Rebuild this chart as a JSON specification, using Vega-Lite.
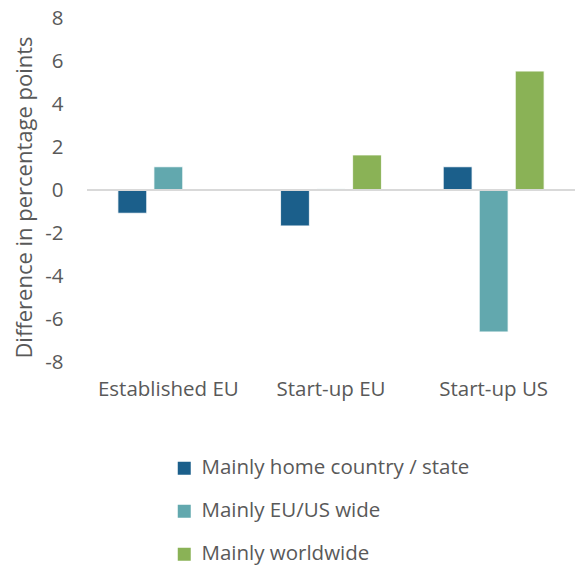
{
  "$schema": "https://vega.github.io/schema/vega-lite/v6.json",
  "autosize": "none",
  "width": 488,
  "height": 344,
  "padding": {"left": 87, "top": 18, "right": 0, "bottom": 211},
  "background": "white",
  "config": {
    "view": {"stroke": null},
    "font": "Open Sans",
    "axis": {"labelColor": "#595959", "titleColor": "#595959", "labelFont": "Open Sans", "titleFont": "Open Sans"},
    "legend": {"labelColor": "#595959", "labelFont": "Open Sans"}
  },
  "data": {
    "values": [
      {"group": "Established EU", "series": "Mainly home country / state", "value": -1.08},
      {"group": "Established EU", "series": "Mainly EU/US wide", "value": 1.08},
      {"group": "Established EU", "series": "Mainly worldwide", "value": 0},
      {"group": "Start-up EU", "series": "Mainly home country / state", "value": -1.67},
      {"group": "Start-up EU", "series": "Mainly EU/US wide", "value": 0.05},
      {"group": "Start-up EU", "series": "Mainly worldwide", "value": 1.63},
      {"group": "Start-up US", "series": "Mainly home country / state", "value": 1.08},
      {"group": "Start-up US", "series": "Mainly EU/US wide", "value": -6.6},
      {"group": "Start-up US", "series": "Mainly worldwide", "value": 5.53}
    ]
  },
  "layer": [
    {
      "mark": {"type": "bar", "stroke": "white", "strokeWidth": 0.8},
      "encoding": {
        "x": {
          "field": "group", "type": "nominal", "sort": ["Established EU", "Start-up EU", "Start-up US"],
          "scale": {"paddingInner": 0.38, "paddingOuter": 0.19},
          "axis": {"title": null, "labelAngle": 0, "domain": false, "ticks": false, "labelFontSize": 20.5, "labelPadding": 17}
        },
        "xOffset": {
          "field": "series", "type": "nominal",
          "sort": ["Mainly home country / state", "Mainly EU/US wide", "Mainly worldwide"],
          "scale": {"paddingInner": 0.2, "paddingOuter": 0}
        },
        "y": {
          "field": "value", "type": "quantitative",
          "scale": {"domain": [-8, 8], "nice": false},
          "axis": {"title": "Difference in percentage points", "values": [-8, -6, -4, -2, 0, 2, 4, 6, 8], "labelExpr": "'' + datum.value", "grid": false, "domain": false, "ticks": false, "labelFontSize": 20.5, "labelPadding": 24, "titleFontSize": 22, "titleFontWeight": "normal", "titlePadding": 8, "titleY": 179}
        },
        "color": {
          "field": "series", "type": "nominal",
          "sort": ["Mainly home country / state", "Mainly EU/US wide", "Mainly worldwide"],
          "scale": {"domain": ["Mainly home country / state", "Mainly EU/US wide", "Mainly worldwide"], "range": ["#1b5f8b", "#62a8ae", "#8ab256"]},
          "legend": {"title": null, "orient": "none", "legendX": 87, "legendY": 440, "direction": "vertical", "symbolType": "square", "symbolSize": 169, "symbolStrokeWidth": 0, "labelFontSize": 20.5, "labelLimit": 400, "rowPadding": 22, "labelOffset": 7}
        }
      }
    },
    {
      "mark": {"type": "rule", "color": "#d9d9d9", "strokeWidth": 2},
      "encoding": {"y": {"datum": 0}}
    }
  ]
}
